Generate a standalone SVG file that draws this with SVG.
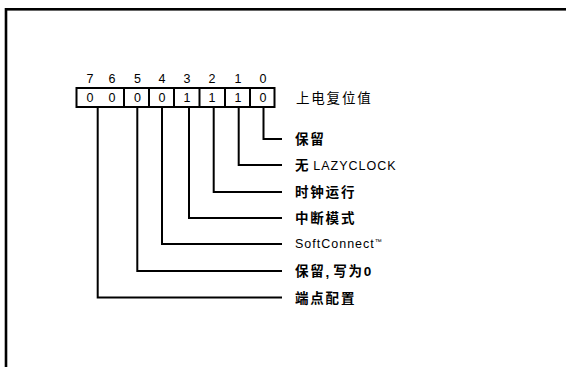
<svg xmlns="http://www.w3.org/2000/svg" width="566" height="367" viewBox="0 0 566 367">
<style>
.frame{fill:none;stroke:#000;stroke-width:2.6}
.box{fill:#fff;stroke:#000;stroke-width:2}
.div{stroke:#000;stroke-width:2}
.num{font-family:"Liberation Sans",Arial,sans-serif;font-size:12.5px;fill:#000;text-anchor:middle}
.cn{font-family:"Liberation Sans","Noto Sans CJK SC",sans-serif;font-size:13.5px;fill:#000;letter-spacing:1.8px;dominant-baseline:central}
.b{font-weight:bold}
.lat{font-family:"Liberation Sans",Arial,sans-serif;font-size:12.5px;letter-spacing:1px}
.conn{fill:none;stroke:#000;stroke-width:2}
</style>
<rect class="frame" x="6" y="9.3" width="580" height="380"/>
<g id="register">
<rect class="box" x="76.5" y="88" width="198" height="19"/>
<line class="div" x1="124" y1="88" x2="124" y2="107"/>
<line class="div" x1="149" y1="88" x2="149" y2="107"/>
<line class="div" x1="174" y1="88" x2="174" y2="107"/>
<line class="div" x1="199.5" y1="88" x2="199.5" y2="107"/>
<line class="div" x1="225" y1="88" x2="225" y2="107"/>
<line class="div" x1="250" y1="88" x2="250" y2="107"/>
<g class="num">
<text x="90" y="83">7</text><text x="112" y="83">6</text><text x="137.5" y="83">5</text><text x="162" y="83">4</text><text x="187" y="83">3</text><text x="212" y="83">2</text><text x="238" y="83">1</text><text x="263" y="83">0</text>
<text x="90" y="102">0</text><text x="112" y="102">0</text><text x="137.5" y="102">0</text><text x="162" y="102">0</text><text x="187" y="102">1</text><text x="212" y="102">1</text><text x="238" y="102">1</text><text x="263" y="102">0</text>
</g>
<text class="cn" x="296" y="98.5">上电复位值</text>
</g>
<g id="connectors">
<path class="conn" d="M263.5 107V139H282"/>
<path class="conn" d="M238.7 107V165H282"/>
<path class="conn" d="M213.7 107V192H282"/>
<path class="conn" d="M189 107V218H282"/>
<path class="conn" d="M162 107V244H282"/>
<path class="conn" d="M137.3 107V271H282"/>
<path class="conn" d="M97.7 107V297.5H282"/>
</g>
<g id="bit0"><text class="cn b" x="295" y="139.5">保留</text></g>
<g id="bit1"><text class="cn b" x="295" y="165.5">无<tspan class="lat" font-weight="normal" dx="3">LAZYCLOCK</tspan></text></g>
<g id="bit2"><text class="cn b" x="295" y="192.5">时钟运行</text></g>
<g id="bit3"><text class="cn b" x="295" y="218.5">中断模式</text></g>
<g id="bit4"><text class="cn lat" x="295" y="244" letter-spacing="0.6">SoftConnect<tspan font-size="7" dy="-3.5" letter-spacing="0">™</tspan></text></g>
<g id="bit5"><text class="cn b" x="295" y="271.5">保留<tspan letter-spacing="0">, </tspan>写为0</text></g>
<g id="bit76"><text class="cn b" x="295" y="298">端点配置</text></g>
</svg>
